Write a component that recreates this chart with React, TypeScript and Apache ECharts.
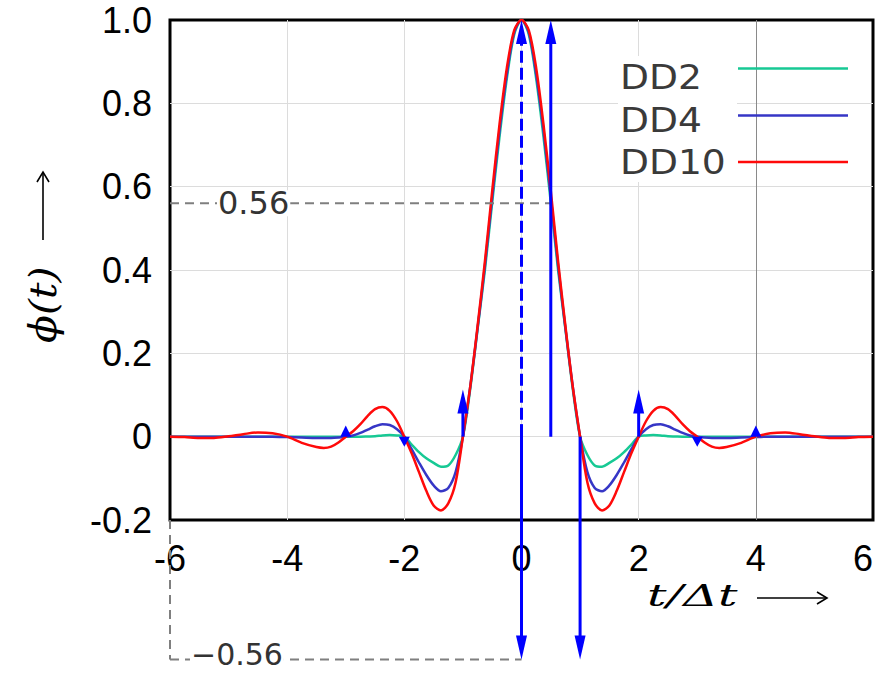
import React, { useEffect, useRef } from 'react';
import * as echarts from 'echarts';

// sample positions t/Δt
const tValues = [
  -6, -5.75, -5.5, -5.25, -5, -4.75, -4.5, -4.25, -4, -3.75, -3.5, -3.375, -3.25, -3.125, -3,
  -2.875, -2.75, -2.625, -2.5, -2.375, -2.25, -2.125, -2, -1.875, -1.75, -1.625, -1.5, -1.375,
  -1.25, -1.125, -1, -0.875, -0.75, -0.625, -0.5, -0.375, -0.25, -0.125,
  0, 0.125, 0.25, 0.375, 0.5, 0.625, 0.75, 0.875, 1, 1.125, 1.25, 1.375, 1.5, 1.625, 1.75, 1.875,
  2, 2.125, 2.25, 2.375, 2.5, 2.625, 2.75, 2.875, 3, 3.125, 3.25, 3.375, 3.5, 3.75, 4, 4.25, 4.5,
  4.75, 5, 5.25, 5.5, 5.75, 6,
];

const dd2 = [
  0, 0, 0, 0, 0, 0, 0, 0, 0, 0, 0, 0, 0, 0, 0, 0, 0,
  0.0005, 0.001, 0.003, 0.004, 0.003, 0, -0.019, -0.037, -0.052, -0.063, -0.072, -0.069, -0.044,
  0, 0.115, 0.258, 0.4, 0.5625, 0.72, 0.86, 0.965,
  1, 0.965, 0.86, 0.72, 0.5625, 0.4, 0.258, 0.115, 0, -0.044, -0.069, -0.072, -0.063, -0.052,
  -0.037, -0.019, 0, 0.003, 0.004, 0.003, 0.001, 0.0005,
  0, 0, 0, 0, 0, 0, 0, 0, 0, 0, 0, 0, 0, 0, 0, 0, 0,
];

const dd4 = [
  0, 0, 0, 0, 0, 0, 0, 0, -0.001, -0.002, -0.003, -0.003, -0.003, -0.002, 0, 0.003, 0.009,
  0.017, 0.025, 0.03, 0.028, 0.018, 0, -0.03, -0.062, -0.092, -0.117, -0.131, -0.123, -0.085,
  0, 0.12, 0.26, 0.41, 0.575, 0.735, 0.87, 0.97,
  1, 0.97, 0.87, 0.735, 0.575, 0.41, 0.26, 0.12, 0, -0.085, -0.123, -0.131, -0.117, -0.092,
  -0.062, -0.03, 0, 0.018, 0.028, 0.03, 0.025, 0.017, 0.009, 0.003, 0, -0.002, -0.003, -0.003,
  -0.003, -0.002, -0.001, 0, 0, 0, 0, 0, 0, 0, 0,
];

const dd10 = [
  0, -0.001, -0.003, -0.003, 0.001, 0.006, 0.01, 0.008, 0, -0.015, -0.025, -0.027, -0.024, -0.014,
  0, 0.013, 0.03, 0.05, 0.066, 0.071, 0.062, 0.037, 0, -0.04, -0.085, -0.13, -0.165, -0.177,
  -0.16, -0.11, 0, 0.12, 0.265, 0.42, 0.59, 0.75, 0.885, 0.975,
  1, 0.975, 0.885, 0.75, 0.59, 0.42, 0.265, 0.12, 0, -0.11, -0.16, -0.177, -0.165, -0.13,
  -0.085, -0.04, 0, 0.037, 0.062, 0.071, 0.066, 0.05, 0.03, 0.013, 0, -0.014, -0.024, -0.027,
  -0.025, -0.015, 0, 0.008, 0.01, 0.006, 0.001, -0.003, -0.003, -0.001, 0,
];

const seriesNames = ['DD2', 'DD4', 'DD10'];
const seriesValues = [dd2, dd4, dd10];

// sample arrows (position, start value, end value)
const arrowT = [0, 0.5, 0, 1, -1, 2, -3, -2, 3, 4];
const arrowFrom = [0, 0, 0.03, 0, 0, 0, 0, 0, 0, 0];
const arrowTo = [1, 1, -0.535, -0.535, 0.113, 0.113, 0.027, -0.024, -0.024, 0.027];
const arrowDashed = [true, false, false, false, false, false, false, false, false, false];

// dashed guide segments [t1, v1, t2, v2]
const guideSegments = [
  [-6, 0.56, 0.5, 0.56],
  [-6, -0.2, -6, -0.535],
  [-6, -0.535, 0, -0.535],
];
const guideLabelAnchor = [
  [-6, 0.56],
  [-6, -0.535],
];
const guideLabelText = ['0.56', '\u22120.56'];

const darkGridT = 4;

const COLORS = ['#17c994', '#3636c6', '#ff0a0a'];
const BLUE = '#0000ff';

export default function App() {
  const ref = useRef<HTMLDivElement>(null);

  useEffect(() => {
    const el = ref.current;
    if (!el) return;
    const chart = echarts.init(el, null, { renderer: 'svg' });

    const lineSeries = seriesNames.map((name, si) => ({
      name,
      type: 'line',
      data: tValues.map((t, i) => [t, seriesValues[si][i]]),
      showSymbol: false,
      smooth: 0.3,
      lineStyle: { color: COLORS[si], width: 2.5 },
      itemStyle: { color: COLORS[si] },
      z: 2 + si * 0.01,
      markLine:
        si === 0
          ? {
              silent: true,
              symbol: ['none', 'none'],
              label: { show: false },
              lineStyle: { color: '#8a8a8a', type: 'solid', width: 1 },
              data: [{ xAxis: darkGridT }],
            }
          : undefined,
    }));

    const labelOffsets = [47, 20];
    const labelDy = [0, -5];
    const labelSize = [32, 30];

    const option: any = {
      animation: false,
      backgroundColor: '#fff',
      grid: {
        left: 170,
        top: 20,
        width: 703,
        height: 500,
        show: true,
        borderColor: '#000',
        borderWidth: 3,
        backgroundColor: 'transparent',
        containLabel: false,
        outerBoundsMode: 'none',
      },
      xAxis: {
        type: 'value',
        min: -6,
        max: 6,
        interval: 2,
        axisLine: { show: false },
        axisTick: { show: false },
        axisLabel: {
          fontSize: 36,
          fontFamily: 'Liberation Sans',
          color: '#000',
          margin: 20,
          alignMaxLabel: 'right',
          formatter: (v: number) => String(v),
        },
        splitLine: {
          show: true,
          showMinLine: false,
          showMaxLine: false,
          lineStyle: { color: '#dcdcdc', width: 1 },
        },
      },
      yAxis: {
        type: 'value',
        min: -0.2,
        max: 1,
        interval: 0.2,
        axisLine: { show: false },
        axisTick: { show: false },
        axisLabel: {
          fontSize: 36,
          fontFamily: 'Liberation Sans',
          color: '#000',
          margin: 18,
          formatter: (v: number) => (Math.abs(v) < 1e-9 ? '0' : v.toFixed(1)),
        },
        splitLine: {
          show: true,
          showMinLine: false,
          showMaxLine: false,
          lineStyle: { color: '#dcdcdc', width: 1 },
        },
      },
      series: [
        ...lineSeries,
        {
          type: 'custom',
          name: 'guides',
          clip: false,
          silent: true,
          z: 3,
          data: guideSegments,
          encode: { x: [0, 2], y: [1, 3] },
          renderItem: (params: any, api: any) => {
            const p1 = api.coord([api.value(0), api.value(1)]);
            const p2 = api.coord([api.value(2), api.value(3)]);
            return {
              type: 'line',
              shape: { x1: p1[0], y1: p1[1], x2: p2[0], y2: p2[1] },
              style: { stroke: '#7f7f7f', lineWidth: 2, lineDash: [9, 6] },
            };
          },
        },
        {
          type: 'custom',
          name: 'guideLabels',
          clip: false,
          silent: true,
          z: 4,
          data: guideLabelAnchor,
          encode: { x: 0, y: 1 },
          renderItem: (params: any, api: any) => {
            const i = params.dataIndex;
            const p = api.coord([api.value(0), api.value(1)]);
            return {
              type: 'text',
              x: p[0] + labelOffsets[i],
              y: p[1] + labelDy[i],
              style: {
                text: guideLabelText[i],
                fill: '#333',
                font: `${labelSize[i]}px "DejaVu Sans"`,
                lineHeight: 26,
                textAlign: 'left',
                textVerticalAlign: 'middle',
                align: 'left',
                verticalAlign: 'middle',
                backgroundColor: '#fff',
                padding: [0, 1, 0, 1],
              },
            };
          },
        },
        {
          type: 'custom',
          name: 'arrows',
          clip: false,
          silent: true,
          z: 5,
          data: arrowT.map((t, i) => [t, arrowFrom[i], arrowTo[i]]),
          encode: { x: 0, y: [1, 2] },
          renderItem: (params: any, api: any) => {
            const i = params.dataIndex;
            const t = api.value(0);
            const p0 = api.coord([t, api.value(1)]);
            const p1 = api.coord([t, api.value(2)]);
            const x = p0[0];
            const len = Math.abs(p1[1] - p0[1]);
            const dir = p1[1] > p0[1] ? 1 : -1;
            const head = Math.min(24, len);
            const hw = 5.5;
            const baseY = p1[1] - dir * head;
            const children: any[] = [];
            if (len > head + 1) {
              children.push({
                type: 'line',
                shape: { x1: x, y1: p0[1], x2: x, y2: baseY + dir * 2 },
                style: {
                  stroke: BLUE,
                  lineWidth: 3,
                  lineDash: arrowDashed[i] ? [12, 5] : null,
                },
              });
            }
            children.push({
              type: 'polygon',
              shape: { points: [[x, p1[1]], [x - hw, baseY], [x + hw, baseY]] },
              style: { fill: BLUE },
            });
            return { type: 'group', children };
          },
        },
      ],
      graphic: [
        {
          type: 'rect',
          z: 10,
          shape: { x: 618, y: 56, width: 119, height: 126 },
          style: { fill: '#fff' },
        },
        ...seriesNames.map((name, i) => ({
          type: 'text',
          z: 11,
          x: 620,
          y: [77, 120, 162][i],
          scaleX: 1.14,
          style: {
            text: name,
            font: '33px "DejaVu Sans"',
            fill: '#3a3a3a',
            textAlign: 'left',
            textVerticalAlign: 'middle',
          },
        })),
        ...seriesNames.map((name, i) => ({
          type: 'line',
          z: 11,
          shape: { x1: 738, y1: [68.5, 115.5, 162][i], x2: 848, y2: [68.5, 115.5, 162][i] },
          style: { stroke: COLORS[i], lineWidth: 2.5 },
        })),
        // y axis name
        {
          type: 'text',
          z: 11,
          x: 43,
          y: 343,
          rotation: Math.PI / 2,
          scaleX: 1.08,
          style: {
            text: '\u03D5(t)',
            font: 'italic 38px "DejaVu Serif"',
            fill: '#000',
            textAlign: 'left',
            textVerticalAlign: 'middle',
          },
        },
        {
          type: 'line',
          z: 11,
          shape: { x1: 43, y1: 240, x2: 43, y2: 173 },
          style: { stroke: '#000', lineWidth: 1.6 },
        },
        {
          type: 'polyline',
          z: 11,
          shape: { points: [[37, 182], [43, 172], [49, 182]] },
          style: { stroke: '#000', lineWidth: 1.6, fill: null },
        },
        // x axis name
        {
          type: 'text',
          z: 11,
          x: 647,
          y: 596,
          scaleX: 1.62,
          style: {
            text: 't/\u0394t',
            font: 'italic 30px "DejaVu Serif"',
            fill: '#000',
            textAlign: 'left',
            textVerticalAlign: 'middle',
          },
        },
        {
          type: 'line',
          z: 11,
          shape: { x1: 757, y1: 598, x2: 826, y2: 598 },
          style: { stroke: '#000', lineWidth: 1.6 },
        },
        {
          type: 'polyline',
          z: 11,
          shape: { points: [[817, 592], [827, 598], [817, 604]] },
          style: { stroke: '#000', lineWidth: 1.6, fill: null },
        },
      ],
    };

    chart.setOption(option);
    return () => chart.dispose();
  }, []);

  return (
    <div
      ref={ref}
      style={{ position: 'absolute', left: 0, top: 0, width: 879, height: 673, background: '#fff' }}
    />
  );
}
